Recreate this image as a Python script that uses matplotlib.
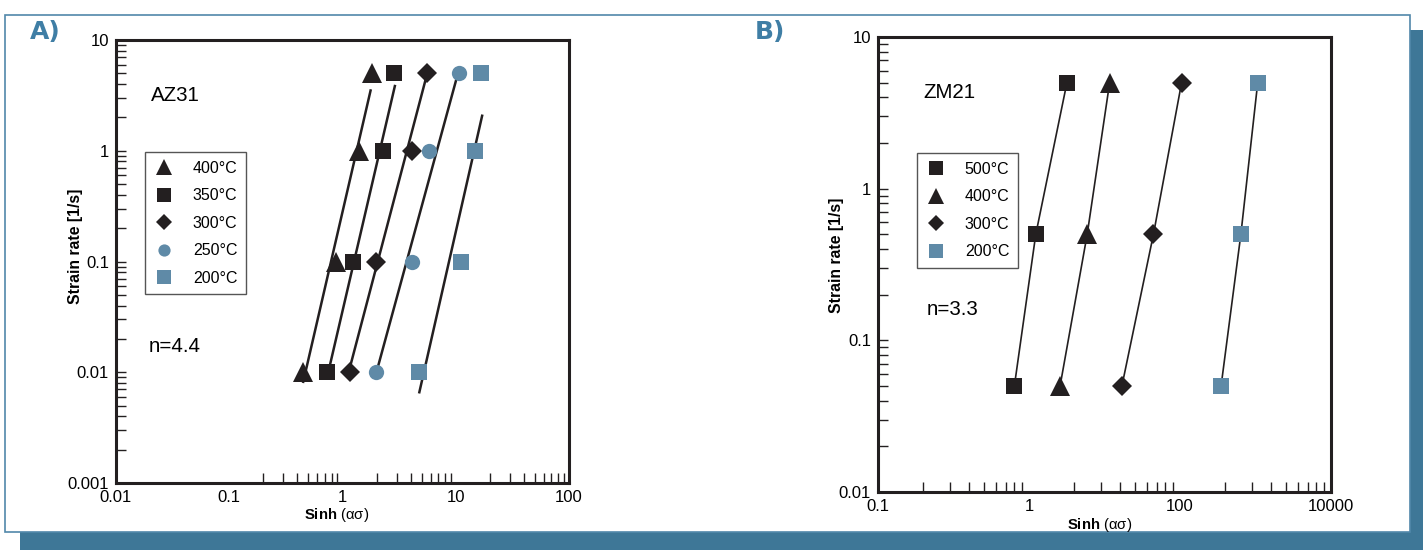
import numpy as np
import matplotlib
matplotlib.use("Agg")
import matplotlib.pyplot as plt
from matplotlib.patches import Rectangle
from matplotlib.ticker import FixedLocator, FixedFormatter, NullFormatter

plt.rcParams['font.family'] = ['Liberation Sans', 'DejaVu Sans']
plt.rcParams['mathtext.fontset'] = 'custom'
plt.rcParams['mathtext.rm'] = 'Liberation Sans'
plt.rcParams['mathtext.bf'] = 'Liberation Sans:bold'

BLACK = '#231f20'
STEEL = '#5f8aa7'
BAND = '#3e7797'

# ---- panel A : AZ31 ----
rates_a = [0.01, 0.1, 1, 5]
az_400 = [0.45, 0.88, 1.40, 1.81]
az_350 = [0.73, 1.24, 2.29, 2.87]
az_300 = [1.16, 1.98, 4.08, 5.53]
az_250 = [1.98, 4.11, 5.85, 10.7]
az_200 = [4.73, 11.1, 14.8, 16.7]

# fitted lines (end points)
fit_x_400 = [0.45, 1.77]
fit_y_400 = [0.0082, 3.5]
fit_x_350 = [0.776, 2.9]
fit_y_350 = [0.0117, 3.84]
fit_x_300 = [1.18, 5.54]
fit_y_300 = [0.0117, 4.79]
fit_x_250 = [2.06, 10.2]
fit_y_250 = [0.0113, 4.55]
fit_x_200 = [4.77, 17.1]
fit_y_200 = [0.0066, 2.07]

# ---- panel B : ZM21 ----
rates_b = [0.05, 0.5, 5]
zm_500 = [0.80, 1.23, 3.18]
zm_400 = [2.58, 5.9, 11.7]
zm_300 = [17.0, 44.5, 105]
zm_200 = [350, 640, 1070]

xticks_a = [0.01, 0.1, 1, 10, 100]
xlabels_a = ['0.01', '0.1', '1', '10', '100']
yticks_a = [0.001, 0.01, 0.1, 1, 10]
ylabels_a = ['0.001', '0.01', '0.1', '1', '10']
xticks_b = [0.1, 1, 100, 10000]
xlabels_b = ['0.1', '1', '100', '10000']
yticks_b = [0.01, 0.1, 1, 10]
ylabels_b = ['0.01', '0.1', '1', '10']

W, H = 1423, 550
fig = plt.figure(figsize=(W / 100, H / 100), dpi=100)

# background frame
bg = fig.add_axes([0, 0, 1, 1], zorder=-5)
bg.set_xlim(0, W)
bg.set_ylim(H, 0)
bg.axis('off')
bg.add_patch(Rectangle((20, 532), W - 20, 18, color=BAND, lw=0))
bg.add_patch(Rectangle((1410, 30), 13, 520, color=BAND, lw=0))
bg.add_patch(Rectangle((5, 15), 1405, 517, facecolor='white', edgecolor='#5288aa', lw=1.2))
bg.text(45, 32, 'A)', color='#3f7ea5', fontsize=18, fontweight='bold',
        family='DejaVu Sans', ha='center', va='center')
bg.text(770, 32, 'B)', color='#3f7ea5', fontsize=18, fontweight='bold',
        family='DejaVu Sans', ha='center', va='center')


def px_axes(l, t, r, b):
    return fig.add_axes([l / W, 1 - b / H, (r - l) / W, (b - t) / H])


def style(ax):
    for s in ax.spines.values():
        s.set_linewidth(2.2)
        s.set_color(BLACK)
    ax.tick_params(which='both', direction='in', top=False, right=False,
                   labelsize=12, width=1.0, color=BLACK, pad=5, length=7)


def legend(ax, anchor):
    leg = ax.legend(loc='upper left', bbox_to_anchor=anchor, fontsize=11.5,
                    fancybox=False, framealpha=1, edgecolor='#555555', borderpad=0.55,
                    labelspacing=0.78, handlelength=1.3, handletextpad=1.15,
                    markerscale=0.8, borderaxespad=0)
    leg.get_frame().set_linewidth(1.0)


ms_kw = dict(ls='none', markeredgewidth=0)

# ---------------- panel A ----------------
ax = px_axes(116, 40, 569, 483)
ax.set_xscale('log')
ax.set_yscale('log')
ax.set_xlim(0.01, 100)
ax.set_ylim(0.001, 10)
for fx, fy in [(fit_x_400, fit_y_400), (fit_x_350, fit_y_350), (fit_x_300, fit_y_300),
               (fit_x_250, fit_y_250), (fit_x_200, fit_y_200)]:
    ax.plot(fx, fy, color=BLACK, lw=1.8, zorder=2)
ax.plot(az_400, rates_a, marker='^', ms=14, color=BLACK, label='400°C', **ms_kw)
ax.plot(az_350, rates_a, marker='s', ms=12, color=BLACK, label='350°C', **ms_kw)
ax.plot(az_300, rates_a, marker='D', ms=9.8, color=BLACK, label='300°C', **ms_kw)
ax.plot(az_250, rates_a, marker='o', ms=11, color=STEEL, label='250°C', **ms_kw)
ax.plot(az_200, rates_a, marker='s', ms=12, color=STEEL, label='200°C', **ms_kw)

ax.xaxis.set_major_locator(FixedLocator(xticks_a))
ax.xaxis.set_major_formatter(FixedFormatter(xlabels_a))
ax.xaxis.set_minor_locator(FixedLocator([k * 10.0 ** d for d in (-1, 0, 1) for k in range(2, 10)] + [1, 10]))
ax.xaxis.set_minor_formatter(NullFormatter())
ax.yaxis.set_major_locator(FixedLocator(yticks_a))
ax.yaxis.set_major_formatter(FixedFormatter(ylabels_a))
ax.yaxis.set_minor_locator(FixedLocator([k * 10.0 ** d for d in (-3, -2, -1, 0) for k in range(2, 10)]))
ax.yaxis.set_minor_formatter(NullFormatter())
style(ax)
ax.tick_params(axis='x', which='major', length=0)

ax.set_xlabel(r'$\mathbf{Sinh}$ (ασ)', fontsize=10.7)
ax.xaxis.set_label_coords(0.488, -0.052)
ax.set_ylabel('Strain rate [1/s]', fontsize=11.3, fontweight='bold')
ax.yaxis.set_label_coords(-0.072, 0.535)
ax.text(0.077, 0.874, 'AZ31', transform=ax.transAxes, fontsize=14.8, va='center')
ax.text(0.073, 0.307, 'n=4.4', transform=ax.transAxes, fontsize=14.8, va='center')
legend(ax, (0.064, 0.747))

# ---------------- panel B ----------------
def fwd(x):
    x = np.clip(np.asarray(x, dtype=float), 1e-12, None)
    lx = np.log10(x)
    return np.where(lx < 0, lx, lx / 2)


def inv(y):
    y = np.asarray(y, dtype=float)
    return np.where(y < 0, 10.0 ** y, 10.0 ** (2 * y))


bx = px_axes(878, 37, 1331, 492)
bx.set_xscale('function', functions=(fwd, inv))
bx.set_yscale('log')
bx.set_xlim(0.1, 10000)
bx.set_ylim(0.01, 10)
for xs in (zm_500, zm_400, zm_300, zm_200):
    bx.plot(xs, rates_b, color=BLACK, lw=1.2, zorder=2)
bx.plot(zm_500, rates_b, marker='s', ms=12, color=BLACK, label='500°C', **ms_kw)
bx.plot(zm_400, rates_b, marker='^', ms=14, color=BLACK, label='400°C', **ms_kw)
bx.plot(zm_300, rates_b, marker='D', ms=9.8, color=BLACK, label='300°C', **ms_kw)
bx.plot(zm_200, rates_b, marker='s', ms=12, color=STEEL, label='200°C', **ms_kw)

minor_b = [k * 0.1 for k in range(2, 10)] + [1] + [k * k for k in range(2, 10)] + [100] + \
          [100 * k * k for k in range(2, 10)]
bx.xaxis.set_major_locator(FixedLocator(xticks_b))
bx.xaxis.set_major_formatter(FixedFormatter(xlabels_b))
bx.xaxis.set_minor_locator(FixedLocator(minor_b))
bx.xaxis.set_minor_formatter(NullFormatter())
bx.yaxis.set_major_locator(FixedLocator(yticks_b))
bx.yaxis.set_major_formatter(FixedFormatter(ylabels_b))
bx.yaxis.set_minor_locator(FixedLocator([k * 10.0 ** d for d in (-2, -1, 0) for k in range(2, 10)]))
bx.yaxis.set_minor_formatter(NullFormatter())
style(bx)
bx.tick_params(axis='x', which='major', length=0)

bx.set_xlabel(r'$\mathbf{Sinh}$ (ασ)', fontsize=10.7)
bx.xaxis.set_label_coords(0.49, -0.053)
bx.set_ylabel('Strain rate [1/s]', fontsize=11.3, fontweight='bold')
bx.yaxis.set_label_coords(-0.074, 0.52)
bx.text(0.10, 0.877, 'ZM21', transform=bx.transAxes, fontsize=14.8, va='center')
bx.text(0.108, 0.402, 'n=3.3', transform=bx.transAxes, fontsize=14.8, va='center')
legend(bx, (0.086, 0.745))

fig.savefig('out.png', dpi=100)
